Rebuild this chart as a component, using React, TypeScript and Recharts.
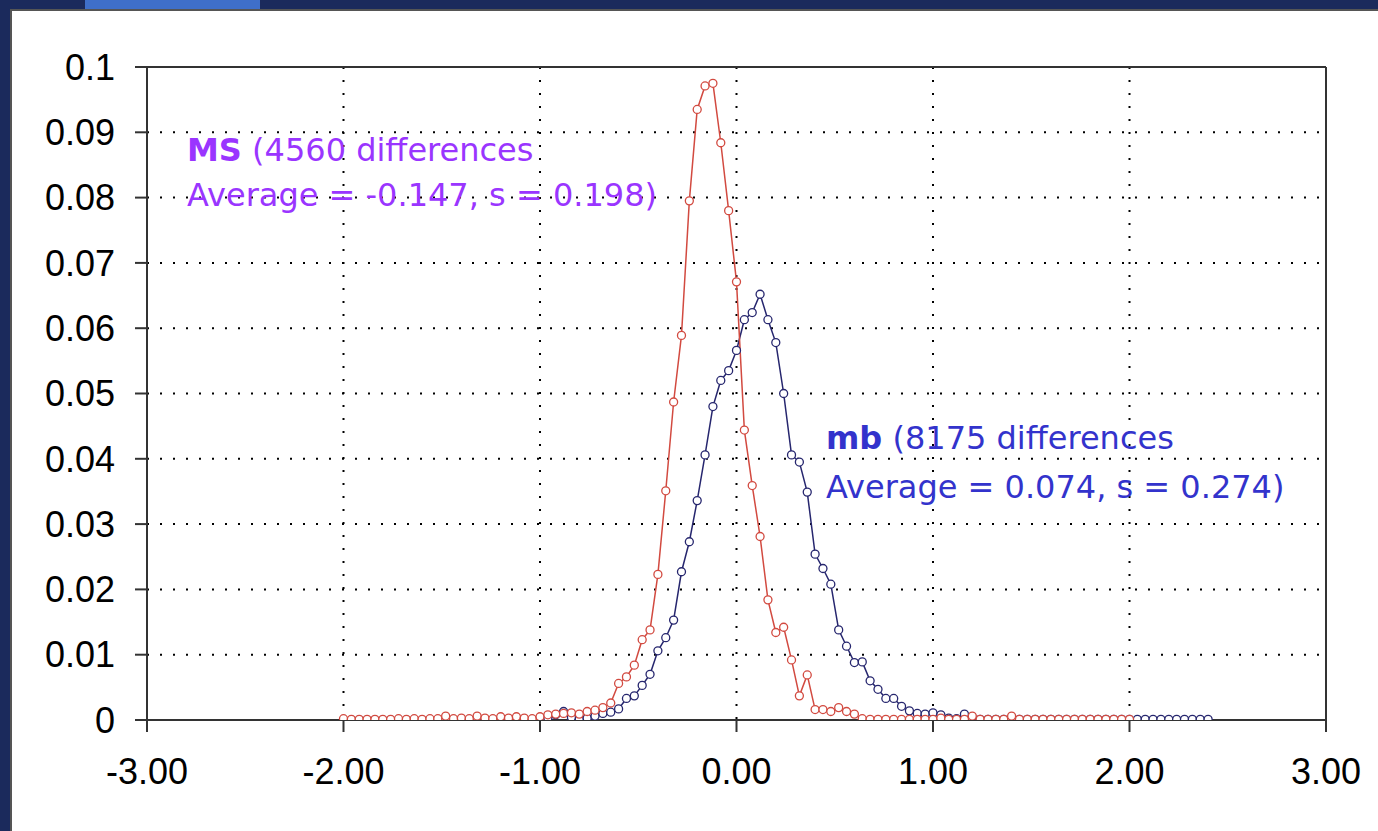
import React from 'react';
import { LineChart, Line, XAxis, YAxis, CartesianGrid, ReferenceLine } from 'recharts';

// MS differences (red)
const msX = [
  -2.0, -1.96, -1.92, -1.88, -1.84, -1.8, -1.76, -1.72, -1.68, -1.64,
  -1.6, -1.56, -1.52, -1.48, -1.44, -1.4, -1.36, -1.32, -1.28, -1.24,
  -1.2, -1.16, -1.12, -1.08, -1.04, -1.0, -0.96, -0.92, -0.88, -0.84,
  -0.8, -0.76, -0.72, -0.68, -0.64, -0.6, -0.56, -0.52, -0.48, -0.44,
  -0.4, -0.36, -0.32, -0.28, -0.24, -0.2, -0.16, -0.12, -0.08, -0.04,
  0.0, 0.04, 0.08, 0.12, 0.16, 0.2, 0.24, 0.28, 0.32, 0.36,
  0.4, 0.44, 0.48, 0.52, 0.56, 0.6, 0.64, 0.68, 0.72, 0.76,
  0.8, 0.84, 0.88, 0.92, 0.96, 1.0, 1.04, 1.08, 1.12, 1.16,
  1.2, 1.24, 1.28, 1.32, 1.36, 1.4, 1.44, 1.48, 1.52, 1.56,
  1.6, 1.64, 1.68, 1.72, 1.76, 1.8, 1.84, 1.88, 1.92, 1.96,
  2.0,
];
const msY = [
  0.0002, 0.0001, 0.0001, 0.0001, 0.0001, 0.0001, 0.0001, 0.0002, 0.0001, 0.0002,
  0.0001, 0.0002, 0.0002, 0.0006, 0.0002, 0.0003, 0.0002, 0.0006, 0.0003, 0.0002,
  0.0005, 0.0003, 0.0005, 0.0003, 0.0002, 0.0005, 0.0008, 0.0009, 0.001, 0.0011,
  0.0009, 0.0013, 0.0015, 0.0019, 0.0026, 0.0056, 0.0066, 0.0084, 0.0123, 0.0138,
  0.0223, 0.0351, 0.0487, 0.0589, 0.0795, 0.0935, 0.0971, 0.0975, 0.0884, 0.078,
  0.0671, 0.0444, 0.0359, 0.0281, 0.0184, 0.0134, 0.0142, 0.0092, 0.0037, 0.0069,
  0.0016, 0.0016, 0.0013, 0.0019, 0.0013, 0.0009, 0.0002, 0.0001, 0.0001, 0.0001,
  0.0001, 0.0001, 0.0001, 0.0001, 0.0001, 0.0001, 0.0003, 0.0001, 0.0001, 0.0001,
  0.0006, 0.0001, 0.0001, 0.0001, 0.0001, 0.0006, 0.0001, 0.0001, 0.0001, 0.0001,
  0.0001, 0.0001, 0.0001, 0.0001, 0.0001, 0.0001, 0.0001, 0.0001, 0.0001, 0.0001,
  0.0001,
];

// mb differences (blue)
const mbX = [
  -2.0, -1.96, -1.92, -1.88, -1.84, -1.8, -1.76, -1.72, -1.68, -1.64,
  -1.6, -1.56, -1.52, -1.48, -1.44, -1.4, -1.36, -1.32, -1.28, -1.24,
  -1.2, -1.16, -1.12, -1.08, -1.04, -1.0, -0.96, -0.92, -0.88, -0.84,
  -0.8, -0.76, -0.72, -0.68, -0.64, -0.6, -0.56, -0.52, -0.48, -0.44,
  -0.4, -0.36, -0.32, -0.28, -0.24, -0.2, -0.16, -0.12, -0.08, -0.04,
  0.0, 0.04, 0.08, 0.12, 0.16, 0.2, 0.24, 0.28, 0.32, 0.36,
  0.4, 0.44, 0.48, 0.52, 0.56, 0.6, 0.64, 0.68, 0.72, 0.76,
  0.8, 0.84, 0.88, 0.92, 0.96, 1.0, 1.04, 1.08, 1.12, 1.16,
  1.2, 1.24, 1.28, 1.32, 1.36, 1.4, 1.44, 1.48, 1.52, 1.56,
  1.6, 1.64, 1.68, 1.72, 1.76, 1.8, 1.84, 1.88, 1.92, 1.96,
  2.0, 2.04, 2.08, 2.12, 2.16, 2.2, 2.24, 2.28, 2.32, 2.36,
  2.4,
];
const mbY = [
  0.0, 0.0, 0.0, 0.0, 0.0, 0.0, 0.0, 0.0, 0.0, 0.0,
  0.0, 0.0, 0.0, 0.0001, 0.0, 0.0, 0.0, 0.0002, 0.0, 0.0,
  0.0002, 0.0, 0.0001, 0.0, 0.0, 0.0002, 0.0003, 0.0008, 0.0013, 0.0004,
  0.0001, 0.0003, 0.0006, 0.001, 0.0012, 0.0017, 0.0033, 0.0037, 0.0053, 0.007,
  0.0106, 0.0126, 0.0153, 0.0227, 0.0273, 0.0336, 0.0406, 0.048, 0.052, 0.0535,
  0.0566, 0.0613, 0.0624, 0.0652, 0.0613, 0.0578, 0.05, 0.0406, 0.0395, 0.0349,
  0.0254, 0.0232, 0.0208, 0.0138, 0.0113, 0.0088, 0.0089, 0.006, 0.0047, 0.0033,
  0.0033, 0.0021, 0.0014, 0.001, 0.0009, 0.0011, 0.0008, 0.0003, 0.0002, 0.0009,
  0.0003, 0.0001, 0.0001, 0.0001, 0.0001, 0.0001, 0.0001, 0.0001, 0.0001, 0.0001,
  0.0001, 0.0001, 0.0001, 0.0001, 0.0001, 0.0001, 0.0001, 0.0001, 0.0001, 0.0001,
  0.0001, 0.0001, 0.0001, 0.0001, 0.0001, 0.0001, 0.0001, 0.0001, 0.0001, 0.0001,
  0.0001,
];

const xTicks = [-3, -2, -1, 0, 1, 2, 3];
const yTicks = [0, 0.01, 0.02, 0.03, 0.04, 0.05, 0.06, 0.07, 0.08, 0.09, 0.1];
const yTickLabels = ['0', '0.01', '0.02', '0.03', '0.04', '0.05', '0.06', '0.07', '0.08', '0.09', '0.1'];

const msLabel = ['MS', ' (4560 differences', 'Average = -0.147, s = 0.198)'];
const mbLabel = ['mb', ' (8175 differences', 'Average = 0.074, s = 0.274)'];

const RED = '#d24a40';
const BLUE = '#26266e';
const PURPLE = '#9a35ff';
const TEXTBLUE = '#3333cc';

const msData = msX.map((x, i) => ({ x, y: msY[i] }));
const mbData = mbX.map((x, i) => ({ x, y: mbY[i] }));

const tickStyle = { fill: '#000', fontSize: 36, fontFamily: '"Liberation Sans", Arial, sans-serif' };

export default function App() {
  return (
    <div style={{ position: 'absolute', left: 0, top: 0, width: 1378, height: 831, background: '#1b2a5c', overflow: 'hidden' }}>
      <div style={{ position: 'absolute', left: 85, top: 0, width: 175, height: 9, background: '#3f6fc9' }} />
      <div style={{ position: 'absolute', left: 10, top: 9, width: 1368, height: 822, background: '#fff', borderLeft: '2px solid #555', borderTop: '2px solid #555', boxSizing: 'border-box' }} />
      <div style={{ position: 'absolute', left: 0, top: 0 }}>
        <LineChart width={1378} height={831} margin={{ top: 67, right: 52, bottom: 51, left: 0 }}>
          <CartesianGrid stroke="#000" strokeWidth={2} strokeDasharray="2 11" />
          <XAxis
            type="number"
            dataKey="x"
            domain={[-3, 3]}
            ticks={xTicks}
            tickFormatter={(v: number) => v.toFixed(2)}
            allowDataOverflow
            height={60}
            tickSize={12}
            tickMargin={26}
            stroke="#333"
            strokeWidth={2}
            tick={tickStyle}
          />
          <YAxis
            type="number"
            dataKey="y"
            domain={[0, 0.1]}
            ticks={yTicks}
            tickFormatter={(v: number) => yTickLabels[yTicks.indexOf(v)]}
            allowDataOverflow
            width={147}
            tickSize={12}
            tickMargin={20}
            stroke="#333"
            strokeWidth={2}
            tick={tickStyle}
          />
          <ReferenceLine y={0.1} stroke="#333" strokeWidth={2} />
          <ReferenceLine x={3} stroke="#333" strokeWidth={2} />
          <Line
            data={mbData}
            dataKey="y"
            type="linear"
            stroke={BLUE}
            strokeWidth={1.5}
            dot={{ r: 4, fill: '#fff', stroke: BLUE, strokeWidth: 1.3 }}
            isAnimationActive={false}
          />
          <Line
            data={msData}
            dataKey="y"
            type="linear"
            stroke={RED}
            strokeWidth={1.5}
            dot={{ r: 4, fill: '#fff', stroke: RED, strokeWidth: 1.3 }}
            isAnimationActive={false}
          />
        </LineChart>
      </div>
      <svg width={1378} height={831} style={{ position: 'absolute', left: 0, top: 0, pointerEvents: 'none' }}>
        <g style={{ fontFamily: '"DejaVu Sans", Verdana, sans-serif', fontSize: 32 }}>
          <text x={187} y={161} fill={PURPLE}>
            <tspan fontWeight="bold">{msLabel[0]}</tspan>
            <tspan>{msLabel[1]}</tspan>
          </text>
          <text x={187} y={206} fill={PURPLE}>{msLabel[2]}</text>
          <text x={826} y={449} fill={TEXTBLUE}>
            <tspan fontWeight="bold">{mbLabel[0]}</tspan>
            <tspan>{mbLabel[1]}</tspan>
          </text>
          <text x={826} y={498} fill={TEXTBLUE}>{mbLabel[2]}</text>
        </g>
      </svg>
    </div>
  );
}
